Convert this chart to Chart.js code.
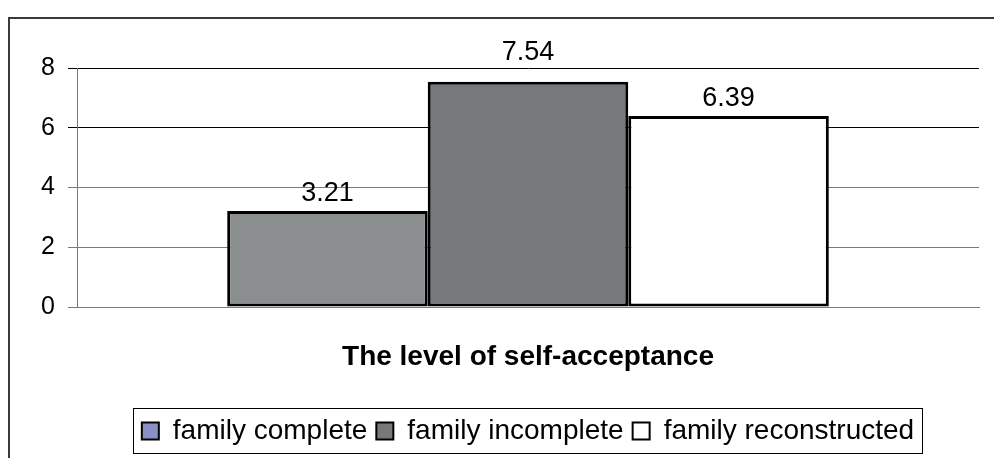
<!DOCTYPE html>
<html>
<head>
<meta charset="utf-8">
<script src="https://cdn.jsdelivr.net/npm/chart.js@4.4.0/dist/chart.umd.min.js"></script>
<style>
  html, body { margin: 0; padding: 0; background: #fff; }
  #wrap { width: 994px; height: 458px; position: relative; }
</style>
</head>
<body>
<div id="wrap"><canvas id="chart" width="994" height="458"></canvas></div>
<script>
// données
const categories = ['The level of self-acceptance'];
const seriesNames = ['family complete', 'family incomplete', 'family reconstructed'];
const seriesValues = [[3.21], [7.54], [6.39]];
const yTicks = [0, 2, 4, 6, 8];

const barColors = ['#8b8e8e', '#76797c', '#ffffff'];
const legendColors = ['#8a8fc8', '#76797c', '#ffffff'];
const FONT = 'Arial, "Liberation Sans", sans-serif';

// cadre extérieur (bord gauche + haut)
const framePlugin = {
    id: 'frame',
    beforeDraw(chart) {
        const ctx = chart.ctx;
        ctx.save();
        ctx.strokeStyle = '#3a3a3a';
        ctx.lineWidth = 2;
        ctx.beginPath();
        ctx.moveTo(9, 460);
        ctx.lineTo(9, 18);
        ctx.lineTo(1000, 18);
        ctx.stroke();
        ctx.restore();
    },
    afterDraw(chart) {
        // bordure autour de la légende
        const lg = chart.legend;
        if (!lg || !lg.legendHitBoxes.length) return;
        const boxes = lg.legendHitBoxes;
        const left = Math.min(...boxes.map(b => b.left)) - 9;
        const right = Math.max(...boxes.map(b => b.left + b.width)) + 8;
        const ctx = chart.ctx;
        ctx.save();
        ctx.strokeStyle = '#000';
        ctx.lineWidth = 1;
        ctx.strokeRect(Math.round(left) + 0.5, Math.round(lg.top) + 0.5, Math.round(right - left), Math.round(lg.height) - 2);
        ctx.restore();
    }
};

// étiquettes de valeurs au-dessus des barres
const valueLabels = {
    id: 'valueLabels',
    afterDatasetsDraw(chart) {
        const ctx = chart.ctx;
        const top = chart.chartArea.top;
        const size = 27;
        ctx.save();
        ctx.font = size + 'px ' + FONT;
        ctx.fillStyle = '#000';
        ctx.textAlign = 'center';
        ctx.textBaseline = 'alphabetic';
        chart.data.datasets.forEach((ds, i) => {
            const bar = chart.getDatasetMeta(i).data[0];
            let y = bar.y - 10;
            // éviter de chevaucher la ligne du haut
            if (y - size * 0.72 < top + 3 && y > top - 3) y = top - 8;
            ctx.fillText(ds.data[0].toFixed(2), bar.x, y);
        });
        ctx.restore();
    }
};

const ctx = document.getElementById('chart').getContext('2d');
new Chart(ctx, {
    type: 'bar',
    data: {
        labels: categories,
        datasets: seriesNames.map((name, i) => ({
            label: name,
            data: seriesValues[i],
            backgroundColor: barColors[i],
            borderColor: '#000',
            borderWidth: 3,
            borderSkipped: false,
            barPercentage: 1,
            categoryPercentage: 0.667
        }))
    },
    options: {
        responsive: false,
        animation: false,
        layout: { padding: { top: 68, right: 15, bottom: 3, left: 0 } },
        scales: {
            y: {
                min: 0, max: 8,
                afterBuildTicks: (s) => { s.ticks = yTicks.map(v => ({ value: v })); },
                afterFit: (s) => { s.width = 77; },
                ticks: { color: '#000', padding: 13, font: { size: 25, family: FONT } },
                grid: {
                    color: (c) => c.tick && c.tick.value >= 6 ? '#000' : '#7a7a7a',
                    tickLength: 9,
                    tickColor: (c) => c.tick && c.tick.value >= 6 ? '#000' : '#7a7a7a'
                },
                border: { color: '#7a7a7a', width: 1 }
            },
            x: {
                afterFit: (s) => { s.height = 101; },
                ticks: { color: '#000', padding: 33, font: { size: 28, weight: 'bold', family: FONT } },
                grid: { display: false, drawTicks: false },
                border: { color: '#7a7a7a', width: 1 }
            }
        },
        plugins: {
            legend: {
                position: 'bottom',
                fullSize: false,
                labels: {
                    color: '#000',
                    font: { size: 28, family: FONT },
                    boxWidth: 17,
                    boxHeight: 17,
                    padding: 9,
                    generateLabels: (chart) => chart.data.datasets.map((ds, i) => ({
                        text: ds.label,
                        fillStyle: legendColors[i],
                        strokeStyle: '#000',
                        lineWidth: 2,
                        hidden: false,
                        datasetIndex: i
                    }))
                }
            },
            tooltip: { enabled: false }
        }
    },
    plugins: [framePlugin, valueLabels]
});
</script>
</body>
</html>
